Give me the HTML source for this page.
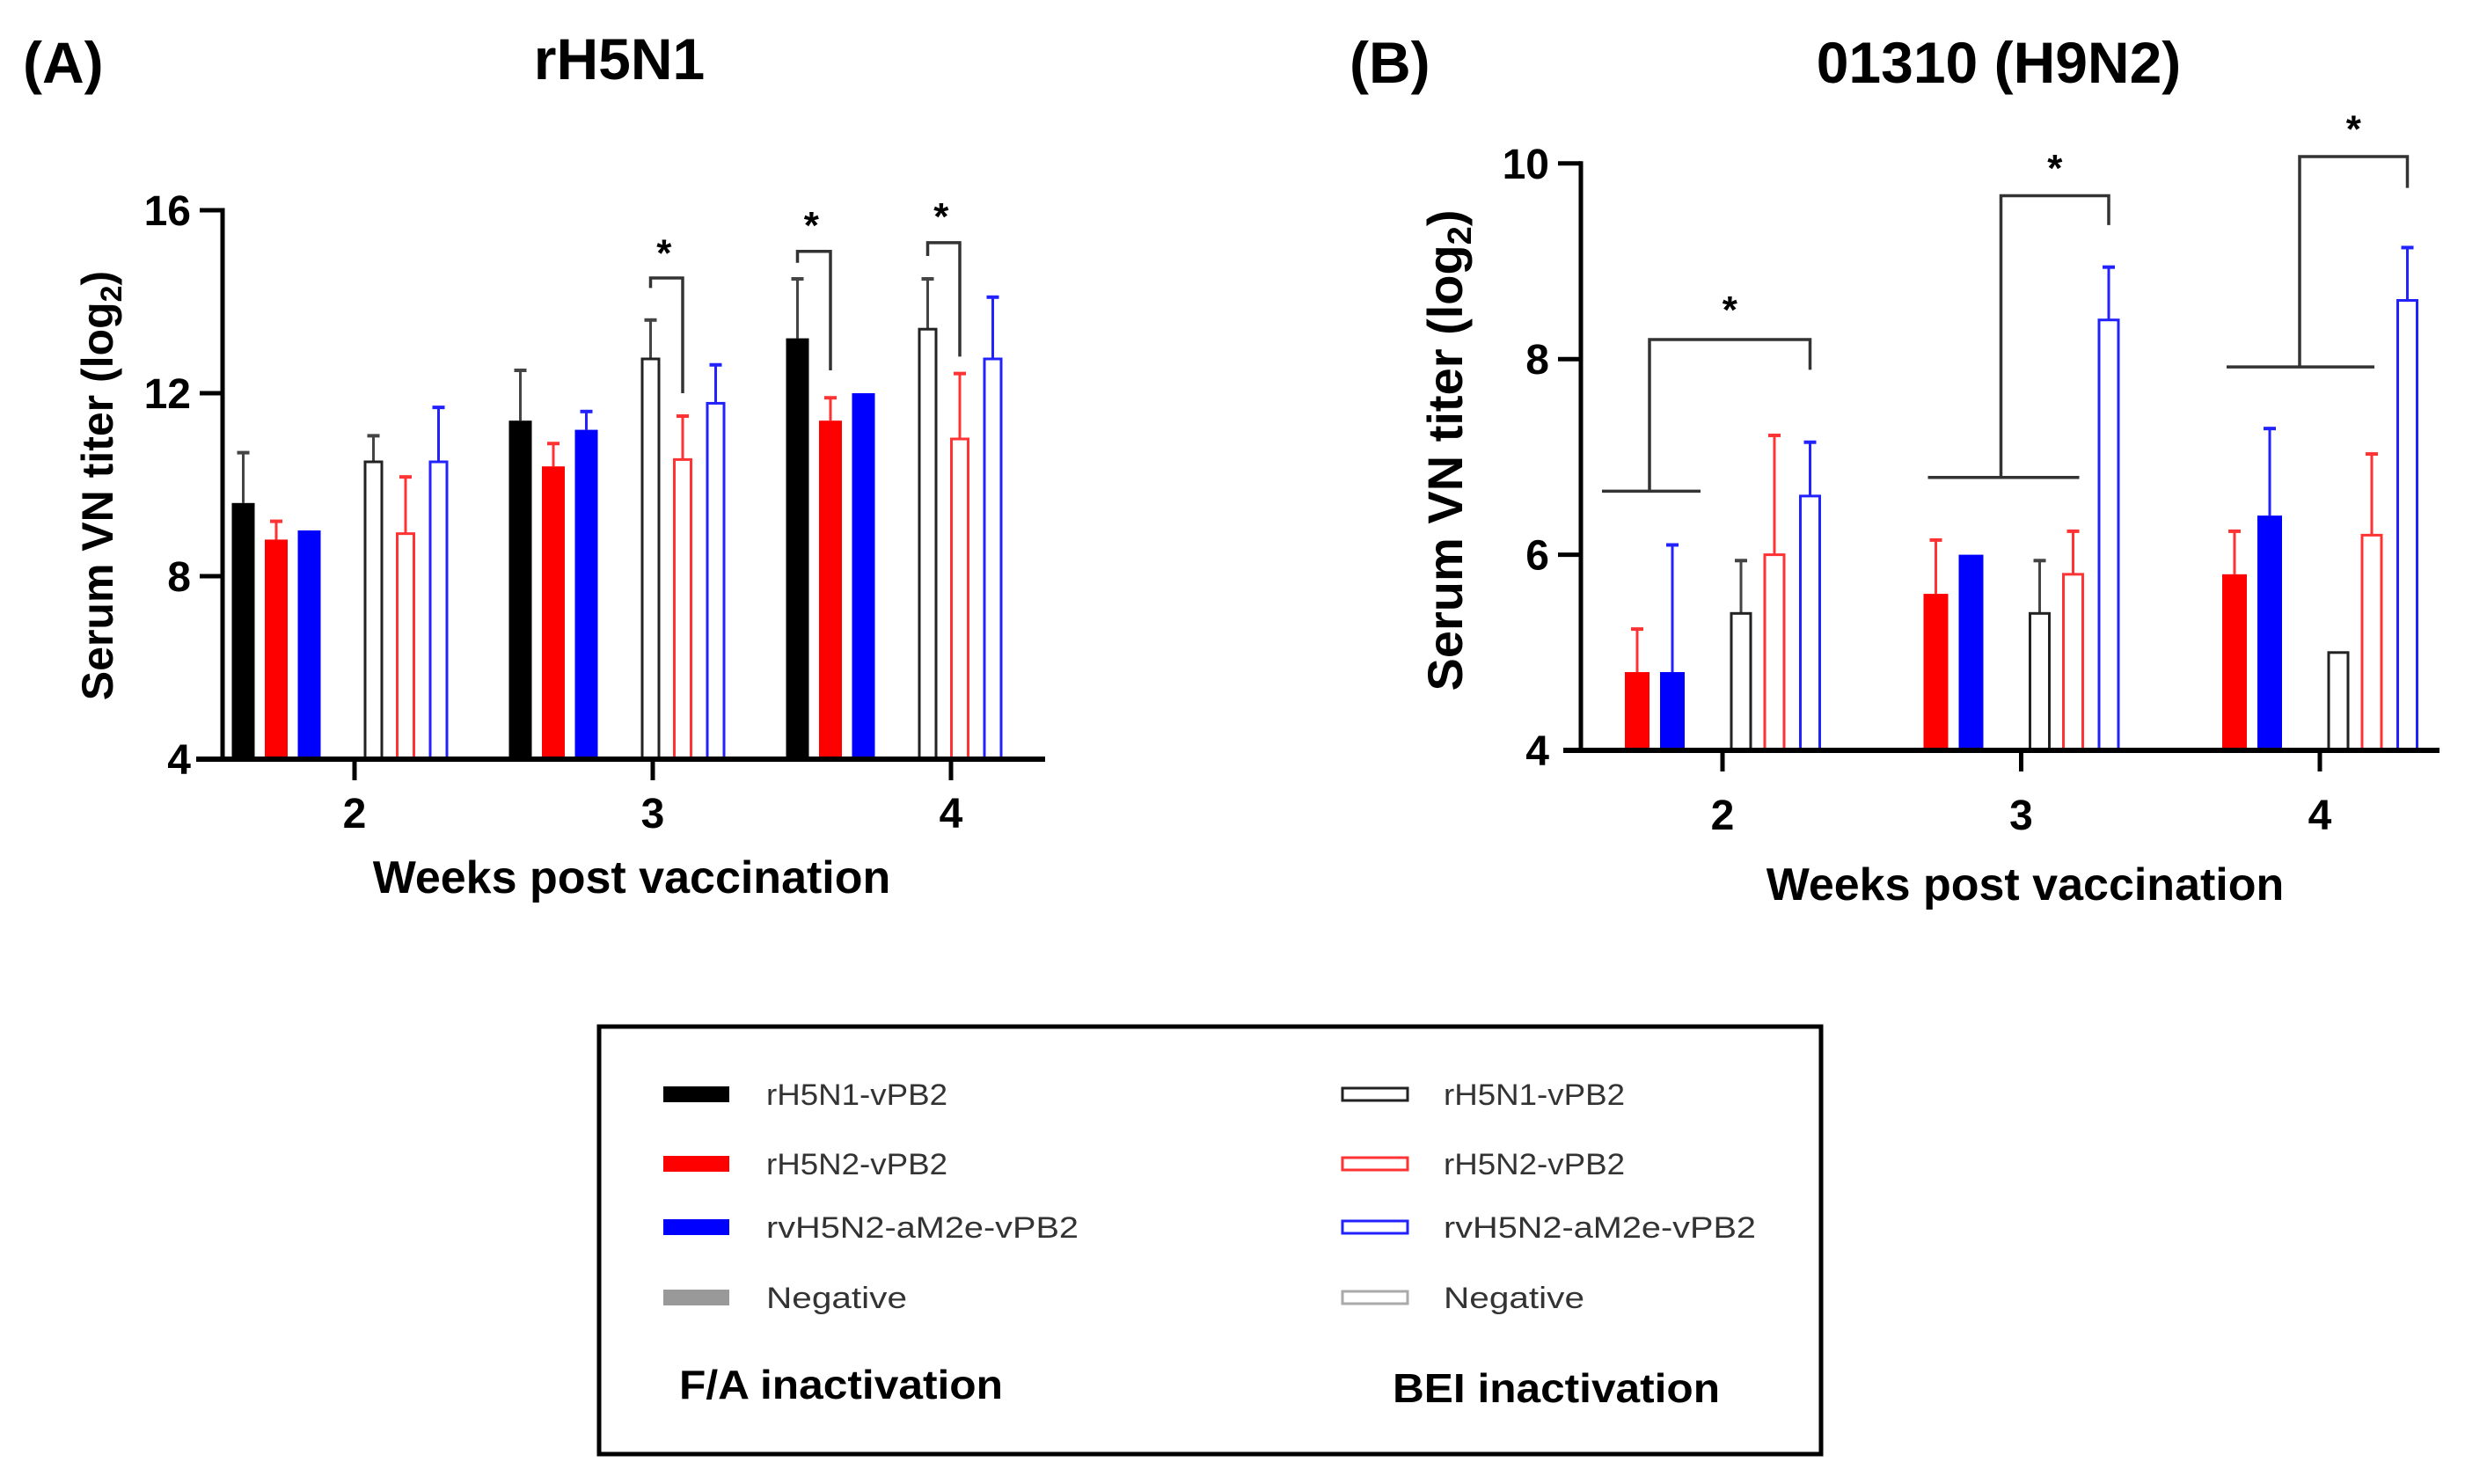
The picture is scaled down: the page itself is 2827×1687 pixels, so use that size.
<!DOCTYPE html>
<html><head><meta charset="utf-8"><title>VN titer</title>
<style>html,body{margin:0;padding:0;background:#fff}svg{display:block}text{font-family:"Liberation Sans",Arial,sans-serif}</style></head>
<body>
<svg id="fig" xmlns="http://www.w3.org/2000/svg" width="2827" height="1687" viewBox="0 0 2827 1687">
<rect width="2827" height="1687" fill="#fff"/>
<text x="26" y="94" font-size="66" font-weight="bold">(A)</text>
<text x="704" y="90" font-size="66" font-weight="bold" text-anchor="middle">rH5N1</text>
<text x="1534" y="94" font-size="66" font-weight="bold">(B)</text>
<text x="2272" y="94" font-size="66" font-weight="bold" text-anchor="middle">01310 (H9N2)</text>
<g id="pa"></g>
<g id="pb"></g>
<g>
<rect x="681" y="1167" width="1389" height="486" fill="none" stroke="#000" stroke-width="5"/>
<rect x="754" y="1235" width="75" height="18" fill="#000"/>
<text x="871" y="1256" font-size="34" fill="#333" textLength="206" lengthAdjust="spacingAndGlyphs">rH5N1-vPB2</text>
<rect x="754" y="1314" width="75" height="18" fill="#f00"/>
<text x="871" y="1335" font-size="34" fill="#333" textLength="206" lengthAdjust="spacingAndGlyphs">rH5N2-vPB2</text>
<rect x="754" y="1386" width="75" height="18" fill="#00f"/>
<text x="871" y="1407" font-size="34" fill="#333" textLength="355" lengthAdjust="spacingAndGlyphs">rvH5N2-aM2e-vPB2</text>
<rect x="754" y="1466" width="75" height="18" fill="#999"/>
<text x="871" y="1487" font-size="34" fill="#333" textLength="160" lengthAdjust="spacingAndGlyphs">Negative</text>
<rect x="1526" y="1237" width="74" height="14" fill="#fff" stroke="#222" stroke-width="3"/>
<text x="1641" y="1256" font-size="34" fill="#333" textLength="206" lengthAdjust="spacingAndGlyphs">rH5N1-vPB2</text>
<rect x="1526" y="1316" width="74" height="14" fill="#fff" stroke="#f33" stroke-width="3"/>
<text x="1641" y="1335" font-size="34" fill="#333" textLength="206" lengthAdjust="spacingAndGlyphs">rH5N2-vPB2</text>
<rect x="1526" y="1388" width="74" height="14" fill="#fff" stroke="#22f" stroke-width="3"/>
<text x="1641" y="1407" font-size="34" fill="#333" textLength="355" lengthAdjust="spacingAndGlyphs">rvH5N2-aM2e-vPB2</text>
<rect x="1526" y="1468" width="74" height="14" fill="#fff" stroke="#aaa" stroke-width="3"/>
<text x="1641" y="1487" font-size="34" fill="#333" textLength="160" lengthAdjust="spacingAndGlyphs">Negative</text>
<text x="772" y="1590" font-size="46" font-weight="bold" textLength="368" lengthAdjust="spacingAndGlyphs">F/A inactivation</text>
<text x="1583" y="1594" font-size="46" font-weight="bold" textLength="372" lengthAdjust="spacingAndGlyphs">BEI inactivation</text>
</g>
</svg>
<script>
// ---- Panel A data (rH5N1) ----
const weeks = ['2', '3', '4'];
const aFaRH5N1 = [9.6, 11.4, 13.2];
const aFaRH5N1Err = [10.7, 12.5, 14.5];
const aFaRH5N2 = [8.8, 10.4, 11.4];
const aFaRH5N2Err = [9.2, 10.9, 11.9];
const aFaRvH5N2 = [9.0, 11.2, 12.0];
const aFaRvH5N2Err = [null, 11.6, null];
const aBeiRH5N1 = [10.5, 12.75, 13.4];
const aBeiRH5N1Err = [11.07, 13.6, 14.5];
const aBeiRH5N2 = [8.93, 10.55, 11.0];
const aBeiRH5N2Err = [10.17, 11.5, 12.43];
const aBeiRvH5N2 = [10.5, 11.78, 12.75];
const aBeiRvH5N2Err = [11.69, 12.62, 14.1];
const aTicks = [4, 8, 12, 16];
// ---- Panel B data (01310 H9N2) ----
const bFaRH5N2 = [4.8, 5.6, 5.8];
const bFaRH5N2Err = [5.24, 6.15, 6.24];
const bFaRvH5N2 = [4.8, 6.0, 6.4];
const bFaRvH5N2Err = [6.1, null, 7.29];
const bBeiRH5N1 = [5.4, 5.4, 5.0];
const bBeiRH5N1Err = [5.94, 5.94, null];
const bBeiRH5N2 = [6.0, 5.8, 6.2];
const bBeiRH5N2Err = [7.22, 6.24, 7.03];
const bBeiRvH5N2 = [6.6, 8.4, 8.6];
const bBeiRvH5N2Err = [7.15, 8.94, 9.14];
const bTicks = [4, 6, 8, 10];
// significance annotations (values in log2 units)
const aSigWeek = [1, 2, 2];
const aSigTop = [14.52, 15.1, 15.29];
const aSigLeftEnd = [14.3, 14.85, 15.0];
const aSigRightEnd = [12.0, 12.5, 12.8];
const aSigStar = [15.16, 15.77, 15.96];
const bSigBase = [6.65, 6.79, 7.92];
const bSigTop = [8.2, 9.67, 10.07];
const bSigRightEnd = [7.89, 9.37, 9.75];
const bSigStar = [8.55, 10.0, 10.4];

const NS = 'http://www.w3.org/2000/svg';
function mk(parent, tag, attrs, txt) {
  const e = document.createElementNS(NS, tag);
  for (const k in attrs) e.setAttribute(k, attrs[k]);
  if (txt !== undefined) e.textContent = txt;
  parent.appendChild(e);
  return e;
}

function drawPanel(g, cfg) {
  const y = v => cfg.y0 - (v - cfg.vmin) * cfg.ppu;
  const x = i => cfg.xt0 + i * cfg.xstep;
  const tx = i => cfg.xt0 + i * cfg.tstep;
  cfg.series.forEach(s => {
    s.vals.forEach((v, i) => {
      if (v == null) return;
      const cx = x(i) + s.off;
      const top = y(v);
      if (s.err[i] != null) {
        const el = mk(g, 'line', {x1: cx, x2: cx, y1: y(s.err[i]), y2: top, stroke: s.ecol, 'stroke-width': 3});
        
        
        const cap = mk(g, 'line', {x1: cx - 7, x2: cx + 7, y1: y(s.err[i]), y2: y(s.err[i]), stroke: s.ecol, 'stroke-width': 4});
        
        
      }
      let r;
      if (s.open) {
        r = mk(g, 'rect', {x: cx - s.w / 2 + 1.5, y: top, width: s.w - 3, height: cfg.y0 - top, fill: '#fff', stroke: s.col, 'stroke-width': 3});
      } else {
        r = mk(g, 'rect', {x: cx - s.w / 2, y: top, width: s.w, height: cfg.y0 - top, fill: s.col});
      }
      
      
    });
  });
  const ya = mk(g, 'line', {x1: cfg.xa, x2: cfg.xa, y1: y(cfg.vmax) - 2.5, y2: cfg.y0 + 2.5, stroke: '#000', 'stroke-width': 5});
  
  
  const xa = mk(g, 'line', {x1: cfg.xa - cfg.xleft, x2: cfg.xend, y1: cfg.y0, y2: cfg.y0, stroke: '#000', 'stroke-width': 6});
  
  
  cfg.ticks.forEach(t => {
    if (t !== cfg.vmin) {
      const tl = mk(g, 'line', {x1: cfg.xa - 26, x2: cfg.xa, y1: y(t), y2: y(t), stroke: '#000', 'stroke-width': 5});
      
      
    }
    const lb = mk(g, 'text', {x: cfg.xa - 36, y: y(t) + 17, 'font-size': 48, 'font-weight': 'bold', 'text-anchor': 'end'}, String(t));
    
    
  });
  weeks.forEach((w, i) => {
    const tk = mk(g, 'line', {x1: tx(i), x2: tx(i), y1: cfg.y0, y2: cfg.y0 + 24, stroke: '#000', 'stroke-width': 5});
    
    
    const lb = mk(g, 'text', {x: tx(i), y: cfg.y0 + cfg.tlab, 'font-size': 48, 'font-weight': 'bold', 'text-anchor': 'middle'}, w);
    
    
  });
  const xt = mk(g, 'text', {x: cfg.xtitle, y: cfg.y0 + cfg.ttl, 'font-size': 52, 'font-weight': 'bold', 'text-anchor': 'middle'}, 'Weeks post vaccination');
  
  
  const yt = mk(g, 'text', {x: 0, y: 0, 'font-size': cfg.yfs, 'font-weight': 'bold', 'text-anchor': 'middle', transform: 'translate(' + cfg.ytx + ',' + cfg.yty + ') rotate(-90)'});
  
  
  yt.appendChild(document.createTextNode('Serum VN titer (log'));
  mk(yt, 'tspan', {'font-size': Math.round(cfg.yfs * 0.68), dy: 10}, '2');
  mk(yt, 'tspan', {dy: -10}, ')');
  return {x, y};
}

const pa = document.getElementById('pa');
const A = drawPanel(pa, {
  y0: 863, vmin: 4, vmax: 16, ppu: 52, xt0: 403, xstep: 315, tstep: 339, xa: 253, xend: 1188, xleft: 30,
  ticks: aTicks, xtitle: 718, ytx: 128, yty: 552, yfs: 50, tlab: 78, ttl: 152,
  series: [
    {key: 'fa-rh5n1', vals: aFaRH5N1, err: aFaRH5N1Err, off: -126.5, w: 26, col: '#000', ecol: '#444'},
    {key: 'fa-rh5n2', vals: aFaRH5N2, err: aFaRH5N2Err, off: -89, w: 26, col: '#f00', ecol: '#f33'},
    {key: 'fa-rvh5n2', vals: aFaRvH5N2, err: aFaRvH5N2Err, off: -51.5, w: 26, col: '#00f', ecol: '#22f'},
    {key: 'bei-rh5n1', vals: aBeiRH5N1, err: aBeiRH5N1Err, off: 21.5, w: 22, col: '#222', ecol: '#444', open: true},
    {key: 'bei-rh5n2', vals: aBeiRH5N2, err: aBeiRH5N2Err, off: 58, w: 22, col: '#f33', ecol: '#f33', open: true},
    {key: 'bei-rvh5n2', vals: aBeiRvH5N2, err: aBeiRvH5N2Err, off: 95.5, w: 22, col: '#22f', ecol: '#22f', open: true}
  ]
});
const aSigOffsets = [[21.5, 58], [-126.5, -89], [21.5, 58]];
aSigWeek.forEach((wk, k) => {
  const xl = A.x(wk) + aSigOffsets[k][0], xr = A.x(wk) + aSigOffsets[k][1];
  const p = mk(pa, 'polyline', {points: xl + ',' + A.y(aSigLeftEnd[k]) + ' ' + xl + ',' + A.y(aSigTop[k]) + ' ' + xr + ',' + A.y(aSigTop[k]) + ' ' + xr + ',' + A.y(aSigRightEnd[k]), fill: 'none', stroke: '#333', 'stroke-width': 3.5});
  
  
  const s = mk(pa, 'text', {x: (xl + xr) / 2 - 3, y: A.y(aSigStar[k]) + 20, 'font-size': 44, 'font-weight': 'bold', 'text-anchor': 'middle'}, '*');
  
  
});

const pb = document.getElementById('pb');
const B = drawPanel(pb, {
  y0: 853, vmin: 4, vmax: 10, ppu: 111.2, xt0: 1958, xstep: 339.5, tstep: 339.5, xa: 1797, xend: 2773, xleft: 20,
  ticks: bTicks, xtitle: 2302, ytx: 1662, yty: 512, yfs: 56, tlab: 90, ttl: 170,
  series: [
    {key: 'fa-rh5n2', vals: bFaRH5N2, err: bFaRH5N2Err, off: -97, w: 28, col: '#f00', ecol: '#f33'},
    {key: 'fa-rvh5n2', vals: bFaRvH5N2, err: bFaRvH5N2Err, off: -57, w: 28, col: '#00f', ecol: '#22f'},
    {key: 'bei-rh5n1', vals: bBeiRH5N1, err: bBeiRH5N1Err, off: 21, w: 25, col: '#222', ecol: '#444', open: true},
    {key: 'bei-rh5n2', vals: bBeiRH5N2, err: bBeiRH5N2Err, off: 59, w: 25, col: '#f33', ecol: '#f33', open: true},
    {key: 'bei-rvh5n2', vals: bBeiRvH5N2, err: bBeiRvH5N2Err, off: 99.5, w: 25, col: '#22f', ecol: '#22f', open: true}
  ]
});
const bSigGeom = [[-137, -25, -83, 99.5], [-106, 66, -23, 99.5], [-106, 62, -23, 99.5]];
bSigBase.forEach((base, i) => {
  const gm = bSigGeom[i], cx = B.x(i);
  const l = mk(pb, 'line', {x1: cx + gm[0], x2: cx + gm[1], y1: B.y(base), y2: B.y(base), stroke: '#333', 'stroke-width': 3.5});
  
  
  const xs = cx + gm[2], xr = cx + gm[3];
  const p = mk(pb, 'polyline', {points: xs + ',' + B.y(base) + ' ' + xs + ',' + B.y(bSigTop[i]) + ' ' + xr + ',' + B.y(bSigTop[i]) + ' ' + xr + ',' + B.y(bSigRightEnd[i]), fill: 'none', stroke: '#333', 'stroke-width': 3.5});
  
  
  const s = mk(pb, 'text', {x: (xs + xr) / 2, y: B.y(bSigStar[i]) + 20, 'font-size': 44, 'font-weight': 'bold', 'text-anchor': 'middle'}, '*');
  
  
});
</script>
</body></html>
